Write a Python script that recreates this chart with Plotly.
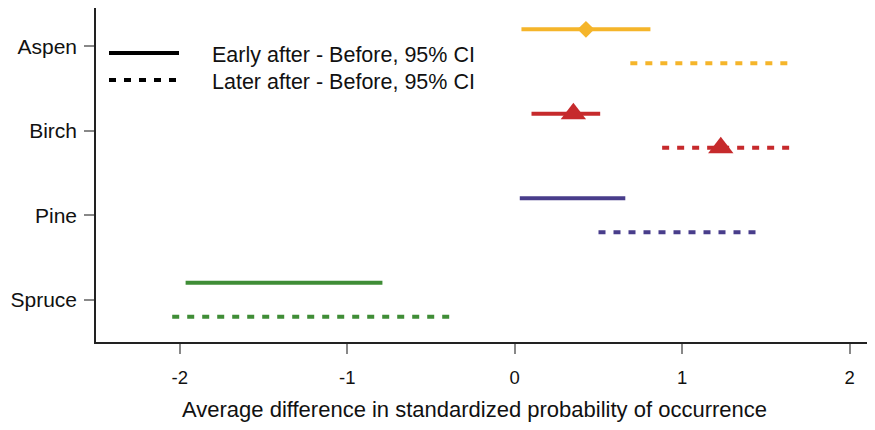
import plotly.graph_objects as go

# ---- data ----
species = ["Aspen", "Birch", "Pine", "Spruce"]
colors = ["#F5B52A", "#C62A2C", "#483D8B", "#3F8D36"]
early_lo = [0.04, 0.10, 0.03, -1.965]
early_hi = [0.81, 0.51, 0.66, -0.79]
later_lo = [0.69, 0.88, 0.50, -2.045]
later_hi = [1.63, 1.65, 1.44, -0.37]
early_est = [0.425, 0.35, None, None]
later_est = [None, 1.23, None, None]
marker_syms = ["diamond", "triangle-up", None, None]
xticks = [-2, -1, 0, 1, 2]
legend_labels = ["Early after - Before, 95% CI", "Later after - Before, 95% CI"]
x_title = "Average difference in standardized probability of occurrence"

FONT = "Liberation Sans, Arial, sans-serif"
PAGE_OFF = 8  # default body margin of the html page
W, H = 875 - 2 * PAGE_OFF, 430 - 2 * PAGE_OFF
ML, MR, MT, MB = 88, 0, 0, 80
PW, PH = W - ML - MR, H - MT - MB
DASH = "7px,8px"
PX_PER_X = 167.5
PX_PER_Y = 84.5

def px2paper(px, py):
    # px, py given in page pixels
    fx, fy = px - PAGE_OFF, py - PAGE_OFF
    return (fx - ML) / PW, 1 - (fy - MT) / PH

n = len(species)
ypos = [n - i for i in range(n)]  # Aspen on top
off = 0.2

fig = go.Figure()
for i, sp in enumerate(species):
    y0 = ypos[i]
    fig.add_trace(go.Scatter(x=[early_lo[i], early_hi[i]], y=[y0 + off, y0 + off],
                             mode="lines", line=dict(color=colors[i], width=4),
                             showlegend=False, hoverinfo="skip"))
    fig.add_trace(go.Scatter(x=[later_lo[i], later_hi[i]], y=[y0 - off, y0 - off],
                             mode="lines", line=dict(color=colors[i], width=4, dash=DASH),
                             showlegend=False, hoverinfo="skip"))
    sym = marker_syms[i]
    size = 13 if sym == "diamond" else 22
    if early_est[i] is not None:
        fig.add_trace(go.Scatter(x=[early_est[i]], y=[y0 + off], mode="markers",
                                 marker=dict(symbol=sym, size=size, color=colors[i]),
                                 showlegend=False))
    if later_est[i] is not None:
        fig.add_trace(go.Scatter(x=[later_est[i]], y=[y0 - off], mode="markers",
                                 marker=dict(symbol=sym, size=size, color=colors[i]),
                                 showlegend=False))

# legend (drawn manually)
shapes = []
annotations = []
leg_rows = [(53, "solid"), (80, DASH)]
for (py, dash), label in zip(leg_rows, legend_labels):
    xa, ya = px2paper(109, py)
    xb, _ = px2paper(179, py)
    shapes.append(dict(type="line", xref="paper", yref="paper", x0=xa, x1=xb, y0=ya, y1=ya,
                       line=dict(color="black", width=4, dash=dash)))
    tx, ty = px2paper(210, py + 2)
    annotations.append(dict(text=label, xref="paper", yref="paper", x=tx, y=ty,
                            xanchor="left", yanchor="middle", showarrow=False,
                            font=dict(family=FONT, size=21.5, color="#111")))

tx, ty = px2paper(474, 409)
annotations.append(dict(text=x_title, xref="paper", yref="paper", x=tx, y=ty,
                        xanchor="center", yanchor="middle", showarrow=False,
                        font=dict(family=FONT, size=22, color="#111")))

x_left = -2.5
x_right = x_left + PW / PX_PER_X
y_bottom = 0.5
y_top = y_bottom + PH / PX_PER_Y

fig.update_layout(
    width=W, height=H, margin=dict(l=ML, r=MR, t=MT, b=MB),
    plot_bgcolor="white", paper_bgcolor="white",
    font=dict(family=FONT, color="#111"),
    shapes=shapes, annotations=annotations, showlegend=False,
    xaxis=dict(range=[x_left, x_right], tickvals=xticks, ticktext=[str(v) for v in xticks],
               showgrid=False, zeroline=False, showline=True, linecolor="#222", linewidth=1.5,
               ticks="outside", ticklen=10, tickwidth=1.5, tickcolor="#888",
               tickfont=dict(family=FONT, size=18.5, color="#111"), ticklabelstandoff=8,
               automargin=False),
    yaxis=dict(range=[y_bottom, y_top], tickvals=ypos, ticktext=species,
               showgrid=False, zeroline=False, showline=True, linecolor="#222", linewidth=1.5,
               ticks="outside", ticklen=10, tickwidth=1.5, tickcolor="#888",
               tickfont=dict(family=FONT, size=21, color="#111"), ticklabelstandoff=3,
               automargin=False),
)

fig.write_html("out.html")
